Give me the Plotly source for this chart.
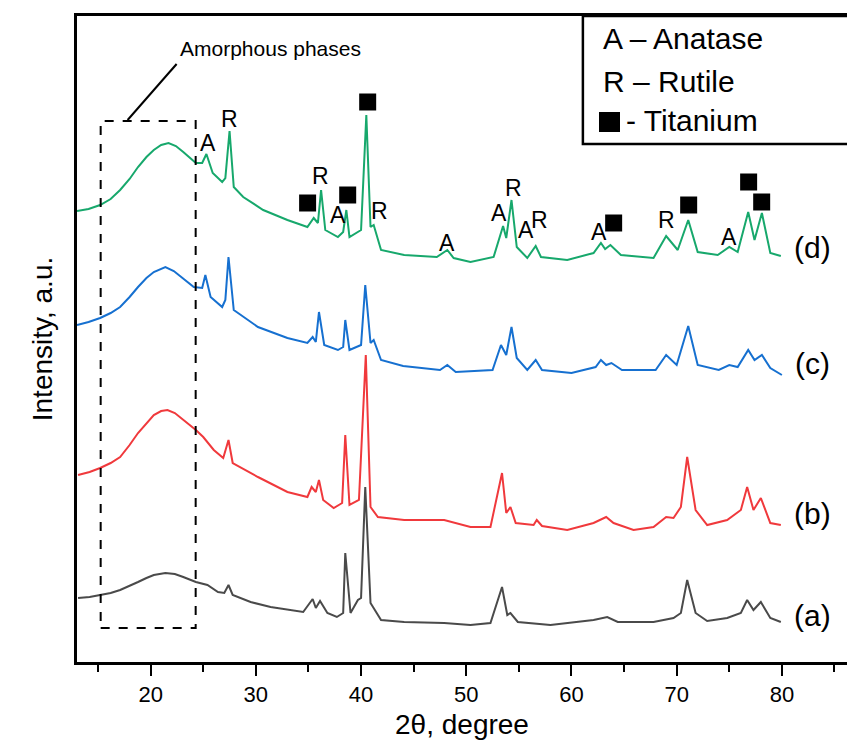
import plotly.graph_objects as go

# ---------------- data (2theta in degrees, intensity in arbitrary units) ----------------
d_theta = [13.0, 14.1, 15.2, 16.2, 17.1, 18.0, 18.8, 19.6, 20.3, 21.0, 21.7, 22.4, 23.1, 23.7, 24.3,
           24.9, 25.3, 25.9, 26.8, 27.1, 27.5, 27.9,
           28.8, 30.7, 33.0, 34.9, 35.5, 35.9, 36.2, 36.6, 37.8, 38.3, 38.6, 38.9, 40.0, 40.5, 40.9,
           41.2, 41.9, 44.1, 47.2, 48.2, 48.8, 50.4, 52.6, 53.5, 53.8, 54.3, 54.8, 55.8, 56.6, 57.1,
           59.6, 62.1, 62.8, 63.2, 63.7, 64.7, 67.8, 69.0, 70.1, 71.1, 72.0, 73.9, 75.0, 75.8, 76.8,
           77.4, 78.1, 78.9, 79.9]
d_int = [451, 453, 457, 463, 472, 483, 495, 505, 512, 517, 519, 516, 510, 504, 499,
         499, 508, 489, 480, 484, 531, 475,
         465, 452, 442, 435, 444, 439, 472, 432, 425, 430, 452, 425, 432, 547, 435,
         437, 412, 407, 405, 412, 404, 400, 405, 436, 424, 462, 415, 404, 416, 405,
         402, 409, 419, 413, 417, 407, 404, 426, 412, 442, 410, 407, 415, 410, 450,
         422, 449, 409, 406]

c_theta = [13.0, 14.1, 15.2, 16.2, 17.1, 18.0, 18.8, 19.6, 20.3, 21.4, 22.2, 22.9, 23.5, 24.1,
           24.9, 25.2, 25.7, 26.8, 27.1, 27.4, 27.9,
           30.2, 33.0, 34.9, 35.4, 35.7, 36.0, 36.5, 37.8, 38.3, 38.5, 38.9, 40.0, 40.4, 40.9, 41.2,
           41.9, 44.0, 47.5, 48.2, 49.0, 52.5, 53.3, 53.8, 54.3, 54.8, 55.8, 56.6, 57.2, 60.0, 62.3,
           62.8, 63.3, 63.8, 64.8, 68.0, 69.0, 70.0, 71.1, 72.0, 74.0, 75.0, 75.8, 76.8, 77.4, 78.1,
           78.9, 80.0]
c_int = [337, 340, 344, 349, 355, 365, 375, 384, 390, 395, 391, 385, 380, 375,
         374, 387, 365, 355, 362, 405, 352,
         335, 324, 319, 325, 320, 350, 317, 312, 315, 342, 312, 317, 377, 319, 322,
         302, 296, 292, 297, 290, 292, 317, 307, 335, 304, 292, 302, 292, 289, 295,
         302, 297, 299, 292, 292, 307, 297, 336, 297, 292, 297, 295, 312, 302, 307,
         294, 287]

b_theta = [13.1, 14.2, 15.2, 16.2, 17.1, 18.0, 18.8, 19.6, 20.3, 21.0, 21.6, 22.3, 22.9, 23.6, 24.3,
           25.0, 26.0, 26.9, 27.4, 27.8, 30.2, 33.0,
           34.9, 35.3, 35.7, 36.0, 36.4, 37.4, 38.2, 38.5, 38.9, 39.8, 40.45, 40.9, 41.6, 44.1, 47.9,
           50.4, 52.3, 53.4, 53.8, 54.2, 54.7, 56.4, 56.7, 57.2, 59.6, 62.1, 63.3, 64.0, 65.9, 67.8,
           69.0, 69.7, 70.4, 71.0, 71.8, 72.9, 74.8, 76.1, 76.7, 77.3, 78.0, 78.9, 79.9]
b_int = [187, 190, 194, 199, 205, 217, 229, 239, 247, 251, 252, 249, 244, 238, 232,
         225, 212, 204, 222, 199, 185, 170,
         165, 175, 170, 182, 162, 154, 159, 227, 157, 162, 307, 155, 145, 142, 142,
         135, 135, 189, 149, 155, 139, 137, 142, 136, 132, 139, 145, 139, 132, 135,
         145, 144, 155, 205, 152, 137, 142, 152, 175, 152, 164, 139, 137]

a_theta = [13.1, 14.2, 15.2, 16.2, 17.1, 18.0, 18.8, 19.6, 20.3, 21.4, 22.3, 23.1, 24.3, 25.4, 26.4,
           27.0, 27.4, 27.8, 29.5, 31.4,
           34.5, 35.4, 35.7, 36.1, 36.8, 37.7, 38.3, 38.5, 39.0, 39.7, 40.0, 40.4, 40.9, 41.9, 44.1,
           47.9, 50.4, 52.3, 53.4, 53.9, 54.2, 54.9, 58.0, 62.1, 63.4, 64.4, 67.8, 69.7, 70.4, 71.0,
           71.8, 72.9, 74.8, 76.1, 76.7, 77.3, 78.0, 78.9, 79.9]
a_int = [64, 65, 67, 69, 72, 76, 80, 84, 87, 89, 88, 85, 80, 77, 70,
         69, 77, 67, 60, 55,
         50, 63, 54, 61, 49, 45, 49, 109, 49, 62, 64, 175, 59, 42, 40,
         39, 37, 39, 75, 47, 49, 40, 37, 42, 45, 40, 40, 44, 49, 82,
         49, 41, 44, 49, 62, 52, 60, 44, 40]

series_names = ["(a)", "(b)", "(c)", "(d)"]
series_colors = ["#4a4a4a", "#f0393c", "#1670d0", "#17a86c"]
series_label_int = [47, 149, 299, 415]

# phase labels on curve (d)
phase_text = ["A", "R", "R", "A", "R", "A", "A", "R", "A", "R", "A", "R", "A"]
phase_theta = [25.42, 27.51, 36.16, 37.78, 41.77, 48.14, 53.08, 54.51, 55.65, 56.98, 62.59, 69.05, 74.94]
phase_int = [519, 543, 486, 447, 451, 419, 449, 474, 432, 442, 430, 442, 425]

ti_theta = [34.92, 38.73, 40.63, 64.01, 71.14, 76.84, 78.08]
ti_int = [459, 467, 560, 439, 457, 480, 460]

# amorphous region box
amorph_theta = [15.25, 24.28]
amorph_int = [34, 541]

x_range = [13.0, 86.19]
y_range = [0, 646]

FONT = "Liberation Sans, Arial, sans-serif"
NARROW = "Liberation Sans Narrow, Arial Narrow, Liberation Sans, Arial, sans-serif"

fig = go.Figure()

thetas = [a_theta, b_theta, c_theta, d_theta]
ints = [a_int, b_int, c_int, d_int]
for th, iv, nm, col in zip(thetas, ints, series_names, series_colors):
    fig.add_trace(go.Scatter(x=th, y=iv, mode="lines", name=nm,
                             line=dict(color=col, width=2), showlegend=False, hoverinfo="skip"))

# titanium markers
fig.add_trace(go.Scatter(x=ti_theta, y=ti_int, mode="markers",
                         marker=dict(symbol="square", size=17, color="black"),
                         showlegend=False, hoverinfo="skip"))

# phase letters
for t, xv, yv in zip(phase_text, phase_theta, phase_int):
    fig.add_annotation(x=xv, y=yv, text=t, showarrow=False, yanchor="middle",
                       font=dict(family=FONT, size=23, color="black"))

# series labels
for nm, yv in zip(series_names, series_label_int):
    fig.add_annotation(x=82.9, y=yv, text=nm, showarrow=False, yanchor="middle",
                       font=dict(family=FONT, size=30, color="black"))

# dashed amorphous box
fig.add_shape(type="rect", x0=amorph_theta[0], x1=amorph_theta[1], y0=amorph_int[0], y1=amorph_int[1],
              line=dict(color="black", width=2, dash="dash"))
fig.add_shape(type="line", x0=17.81, y0=542, x1=22.47, y1=598, line=dict(color="black", width=2))
fig.add_annotation(x=22.57, y=614, text="Amorphous phases", showarrow=False, xanchor="left",
                   yanchor="middle", font=dict(family=FONT, size=21, color="black"))

# key box (top right)
fig.add_shape(type="rect", xref="paper", yref="paper", x0=0.657, x1=1.1, y0=0.802, y1=1.0,
              line=dict(color="black", width=2.5), fillcolor="white", layer="above")
fig.add_annotation(xref="paper", yref="paper", x=0.6805, y=0.9644, text="A – Anatase",
                   showarrow=False, xanchor="left", yanchor="middle",
                   font=dict(family=FONT, size=30, color="black"))
fig.add_annotation(xref="paper", yref="paper", x=0.6805, y=0.898, text="R – Rutile",
                   showarrow=False, xanchor="left", yanchor="middle",
                   font=dict(family=FONT, size=30, color="black"))
fig.add_shape(type="rect", xref="paper", yref="paper", x0=(599 - 77) / 770, x1=(620 - 77) / 770,
              y0=(662 - 132) / 646, y1=(662 - 112) / 646, fillcolor="black", line=dict(width=0),
              layer="above")
fig.add_annotation(xref="paper", yref="paper", x=(624 - 77) / 770, y=0.839, text="- Titanium",
                   showarrow=False, xanchor="left", yanchor="middle",
                   font=dict(family=FONT, size=30, color="black"))

fig.update_layout(
    width=847, height=745,
    margin=dict(l=77, r=0, t=16, b=83),
    plot_bgcolor="white", paper_bgcolor="white",
)
fig.update_xaxes(range=x_range, showgrid=False, zeroline=False,
                 showline=True, linecolor="black", linewidth=3, mirror=True,
                 ticks="outside", ticklen=11, tickwidth=2, tickcolor="black",
                 tick0=0, dtick=10,
                 minor=dict(ticks="outside", ticklen=7, tickwidth=2, tickcolor="black", dtick=5),
                 tickfont=dict(family=NARROW, size=22, color="black"),
                 title=dict(text="2θ, degree", font=dict(family=FONT, size=28, color="black"), standoff=8))
fig.update_yaxes(range=y_range, showgrid=False, zeroline=False,
                 showline=True, linecolor="black", linewidth=3,
                 showticklabels=False, ticks="",
                 title=dict(text="Intensity, a.u.", font=dict(family=FONT, size=28, color="black"), standoff=14))

fig.write_html("out.html", config={"displayModeBar": False},
               post_script="document.body.style.margin='0';document.body.style.padding='0';")
